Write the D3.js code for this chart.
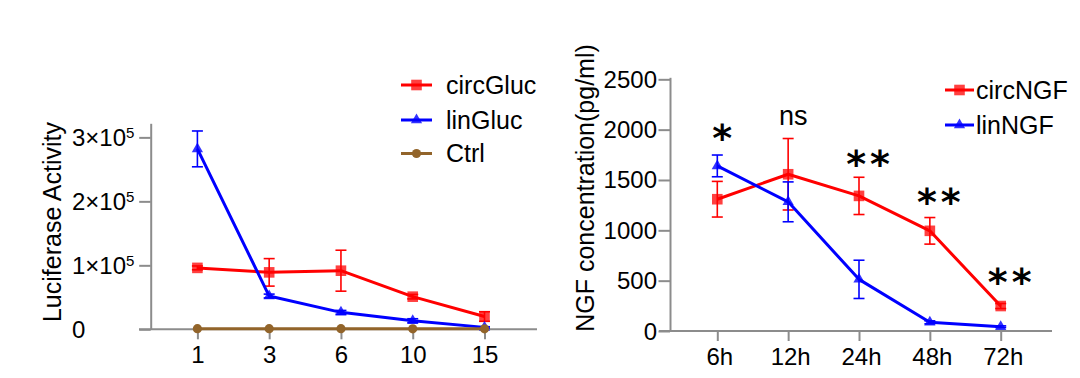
<!DOCTYPE html>
<html><head><meta charset="utf-8">
<script src="https://cdn.jsdelivr.net/npm/d3@7"></script>
<style>body{margin:0;background:#fff}svg{display:block}text{font-family:"Liberation Sans",Arial,sans-serif;fill:#000}</style>
</head><body><svg id="c" width="1080" height="378"></svg>
<script>
// ---------- data: left panel (luciferase) ----------
const lucCategories = ["1", "3", "6", "10", "15"];
const circGluc      = [96000, 89000, 91600, 51000, 20000];
const circGlucErr   = [3000, 21500, 32000, 3500, 7500];
const linGluc       = [282000, 52000, 26500, 13500, 3000];
const linGlucErr    = [28000, 3000, 3000, 3000, 1000];
const ctrlGluc      = [1000, 1000, 1000, 800, 800];
const ctrlGlucErr   = [0, 0, 0, 0, 0];
const lucTicks      = [0, 100000, 200000, 300000];
const lucTickMant   = ["0", "1×10", "2×10", "3×10"];
const lucTickExp    = ["", "5", "5", "5"];
const lucSeriesNames = ["circGluc", "linGluc", "Ctrl"];

// ---------- data: right panel (NGF) ----------
const ngfCategories = ["6h", "12h", "24h", "48h", "72h"];
const circNGF       = [1309, 1557, 1342, 995, 248];
const circNGFErr    = [177, 355, 185, 132, 25];
const linNGF        = [1640, 1283, 513, 86, 43];
const linNGFErr     = [108, 198, 190, 15, 8];
const ngfTicks      = [0, 500, 1000, 1500, 2000, 2500];
const ngfSeriesNames = ["circNGF", "linNGF"];
const sigLabels     = ["*", "ns", "**", "**", "**"];
const sigValues     = [2004, 2118, 1740, 1369, 572];

// ---------- styles ----------
const RED = "#ff0000", BLUE = "#0000ff", BROWN = "#92642a";
const AXIS = "#8c8c8c";
const svg = d3.select("#c");

function marker(g, shape, color, x, y) {
  if (shape === "square") {
    g.append("rect").attr("x", x - 5.3).attr("y", y - 5.3).attr("width", 10.6).attr("height", 10.6)
      .attr("fill", color).attr("fill-opacity", 0.75);
  } else if (shape === "triangle") {
    g.append("path").attr("d", d3.symbol(d3.symbolTriangle, 55)())
      .attr("transform", `translate(${x},${y})`).attr("fill", color).attr("fill-opacity", 0.8);
  } else {
    g.append("circle").attr("cx", x).attr("cy", y).attr("r", 4.6).attr("fill", color);
  }
}

function panel(opt) {
  const g = svg.append("g");
  const x = d3.scalePoint(opt.categories, opt.xRange);
  const y = d3.scaleLinear(opt.yDomain, opt.yRange);

  // x axis
  const xa = g.append("g").attr("transform", `translate(0,${opt.yRange[0]})`)
    .call(d3.axisBottom(x).tickSize(10).tickSizeOuter(0));
  xa.select(".domain").remove();
  xa.selectAll(".tick line").attr("stroke", AXIS).attr("stroke-width", 2);
  xa.selectAll(".tick text").attr("y", 33.5).attr("dy", 0).attr("dx", opt.xLabelDx)
    .attr("font-size", 24).attr("fill", "#000");
  g.append("line").attr("x1", opt.xLine[0]).attr("x2", opt.xLine[1])
    .attr("y1", opt.yRange[0]).attr("y2", opt.yRange[0])
    .attr("stroke", AXIS).attr("stroke-width", 2);

  // y axis
  const ya = g.append("g").attr("transform", `translate(${opt.yAxisX},0)`)
    .call(d3.axisLeft(y).tickValues(opt.ticks).tickSize(11.5).tickSizeOuter(0).tickFormat(""));
  ya.select(".domain").attr("stroke", AXIS).attr("stroke-width", 2);
  ya.selectAll(".tick line").attr("stroke", AXIS).attr("stroke-width", 2);
  ya.selectAll(".tick text").remove();
  opt.ticks.forEach((t, i) => {
    const tx = g.append("text").attr("font-size", 24)
      .attr("x", opt.yLabelX).attr("y", y(t) + 8.5)
      .attr("text-anchor", opt.yLabelAnchor);
    tx.append("tspan").text(opt.tickMant[i]);
    if (opt.tickExp && opt.tickExp[i]) {
      tx.append("tspan").attr("font-size", 15).attr("dy", -8).text(opt.tickExp[i]);
    }
  });

  // y title
  g.append("text").attr("font-size", 25).attr("text-anchor", "middle")
    .attr("transform", `translate(${opt.titlePos[0]},${opt.titlePos[1]}) rotate(-90)`)
    .attr("dy", "0.35em").text(opt.title);

  // series
  opt.series.forEach(s => {
    const sg = g.append("g");
    s.values.forEach((v, i) => {
      const e = s.err[i];
      if (!e) return;
      const cx = x(opt.categories[i]);
      const y1 = y(v + e), y2 = y(v - e);
      sg.append("line").attr("x1", cx).attr("x2", cx).attr("y1", y1).attr("y2", y2)
        .attr("stroke", s.color).attr("stroke-width", 1.6);
      [y1, y2].forEach(yy => sg.append("line").attr("x1", cx - 5.5).attr("x2", cx + 5.5)
        .attr("y1", yy).attr("y2", yy).attr("stroke", s.color).attr("stroke-width", 1.6));
    });
    const line = d3.line().x((d, i) => x(opt.categories[i])).y(d => y(d));
    sg.append("path").attr("d", line(s.values)).attr("fill", "none")
      .attr("stroke", s.color).attr("stroke-width", 3).attr("stroke-linejoin", "round");
    s.values.forEach((v, i) => marker(sg, s.shape, s.color, x(opt.categories[i]), y(v)));
  });

  // legend
  opt.series.forEach((s, i) => {
    const ly = opt.legend.y[i];
    g.append("line").attr("x1", opt.legend.x1).attr("x2", opt.legend.x2)
      .attr("y1", ly).attr("y2", ly).attr("stroke", s.color).attr("stroke-width", 3);
    marker(g, s.shape, s.color, (opt.legend.x1 + opt.legend.x2) / 2, ly);
    g.append("text").attr("x", opt.legend.tx).attr("y", ly).attr("dy", "0.35em")
      .attr("font-size", 25).text(s.name);
  });
  return { g, x, y };
}

// left panel
panel({
  categories: lucCategories, xRange: [197.4, 484.5], xLine: [139, 537], xLabelDx: 0,
  yDomain: [0, 322000], yRange: [329.3, 123.3], yAxisX: 150.7,
  ticks: lucTicks, tickMant: lucTickMant, tickExp: lucTickExp,
  yLabelX: 72, yLabelAnchor: "start",
  title: "Luciferase Activity", titlePos: [52, 222],
  series: [
    { name: lucSeriesNames[0], values: circGluc, err: circGlucErr, color: RED, shape: "square" },
    { name: lucSeriesNames[1], values: linGluc, err: linGlucErr, color: BLUE, shape: "triangle" },
    { name: lucSeriesNames[2], values: ctrlGluc, err: ctrlGlucErr, color: BROWN, shape: "circle" }
  ],
  legend: { x1: 401, x2: 432, tx: 446, y: [85, 120, 153.5] }
});

// right panel
const R = panel({
  categories: ngfCategories, xRange: [717.3, 1000.7], xLine: [659, 1052], xLabelDx: 2,
  yDomain: [0, 2520], yRange: [331, 77.3], yAxisX: 670,
  ticks: ngfTicks, tickMant: ngfTicks.map(String), tickExp: null,
  yLabelX: 657, yLabelAnchor: "end",
  title: "NGF concentration(pg/ml)", titlePos: [585, 188],
  series: [
    { name: ngfSeriesNames[0], values: circNGF, err: circNGFErr, color: RED, shape: "square" },
    { name: ngfSeriesNames[1], values: linNGF, err: linNGFErr, color: BLUE, shape: "triangle" }
  ],
  legend: { x1: 945, x2: 974, tx: 976, y: [90, 125] }
});

// significance labels
sigLabels.forEach((lab, i) => {
  const cx = R.x(ngfCategories[i]);
  const cy = R.y(sigValues[i]);
  if (lab === "ns") {
    R.g.append("text").attr("x", cx + 5).attr("y", cy + 7.5).attr("text-anchor", "middle")
      .attr("font-size", 27).text(lab);
  } else {
    R.g.append("text").attr("x", cx + (lab.length > 1 ? 11 : 5)).attr("y", cy + 21.5)
      .attr("text-anchor", "middle").attr("font-size", 38).attr("font-weight", "bold")
      .attr("letter-spacing", lab.length > 1 ? 4 : 0)
      .style("font-family", "'DejaVu Sans', sans-serif").text(lab);
  }
});
</script></body></html>
